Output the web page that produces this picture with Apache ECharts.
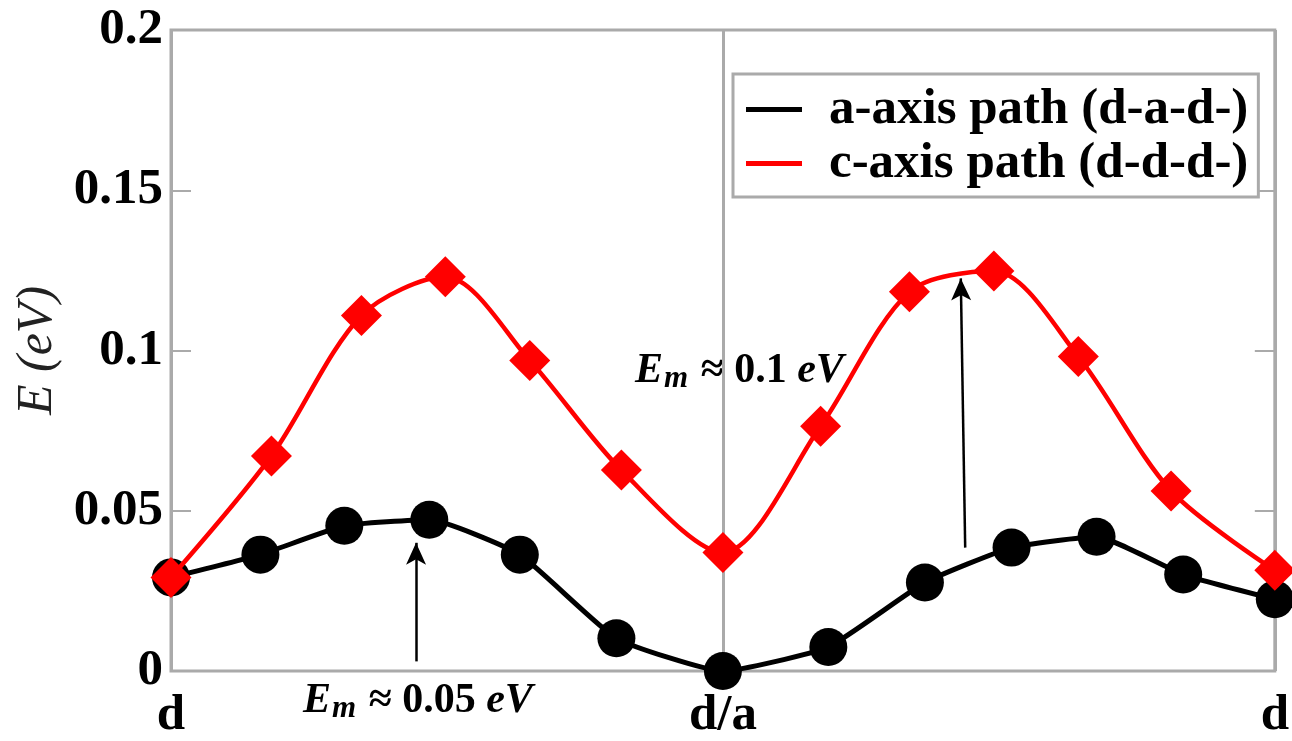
<!DOCTYPE html>
<html>
<head>
<meta charset="utf-8">
<script src="https://cdn.jsdelivr.net/npm/echarts@6/dist/echarts.min.js"></script>
<style>
  html, body { margin: 0; padding: 0; background: #fff; }
  #chart { width: 1292px; height: 741px; }
</style>
</head>
<body>
<div id="chart"></div>
<script>
// path positions: 0 = d, 1 = d/a, 2 = d
const xTickLabels = ['d', 'd/a', 'd']
const yTickLabels = ['0', '0.05', '0.1', '0.15', '0.2']

// a-axis path (d-a-d-)
const aX = [0, 0.162, 0.314, 0.468, 0.632, 0.807, 1.0, 1.191, 1.366, 1.523, 1.677, 1.834, 2.0]
const aE = [0.0292, 0.0363, 0.0453, 0.0472, 0.0363, 0.0102, 0, 0.0075, 0.0276, 0.0385, 0.0419, 0.0301, 0.0224]

// c-axis path (d-d-d-)
const cX = [0, 0.182, 0.345, 0.497, 0.650, 0.816, 1.0, 1.177, 1.338, 1.491, 1.644, 1.812, 2.0]
const cE = [0.0292, 0.0671, 0.1109, 0.1230, 0.0969, 0.0627, 0.0370, 0.0764, 0.1183, 0.1248, 0.0981, 0.0562, 0.0314]

// arrows pointing at the barrier maxima: [from, to] in data coords
const arrowA = [[0.444, 0.003], [0.444, 0.040]]
const arrowC = [[1.439, 0.0385], [1.431, 0.1225]]

const serif = 'Liberation Serif'
const grey = '#aaaaaa'

const chart = echarts.init(document.getElementById('chart'), null, { renderer: 'canvas' })

const mathText = (num) => ({
  type: 'text',
  style: {
    text: '{e|E}{m|m}{t| ≈ }{n|' + num + '}{t| }{e|eV}',
    rich: {
      e: { fontFamily: serif, fontStyle: 'italic', fontWeight: 'bold', fontSize: 42, fill: '#000' },
      m: { fontFamily: serif, fontStyle: 'italic', fontWeight: 'bold', fontSize: 31, fill: '#000', padding: [15, 2, 0, 1] },
      t: { fontFamily: serif, fontWeight: 'bold', fontSize: 42, fill: '#000' },
      n: { fontFamily: serif, fontWeight: 'bold', fontSize: 42, fill: '#000' }
    }
  }
})

const option = {
  animation: false,
  backgroundColor: '#fff',
  grid: {
    left: 171, right: 13, top: 30, bottom: 67,
    show: true, borderColor: grey, borderWidth: 3, backgroundColor: 'transparent'
  },
  legend: {
    orient: 'vertical',
    left: 733, top: 74,
    padding: [10, 10, 8, 13],
    borderColor: grey, borderWidth: 3,
    backgroundColor: '#fff',
    itemWidth: 56, itemHeight: 5, itemGap: 3,
    icon: 'rect',
    textStyle: { fontFamily: serif, fontWeight: 'bold', fontSize: 51, color: '#000', padding: [0, 0, 0, 22] },
    data: ['a-axis path (d-a-d-)', 'c-axis path (d-d-d-)']
  },
  xAxis: {
    type: 'value', min: 0, max: 2, interval: 1,
    axisLine: { show: false },
    axisTick: { show: false },
    splitLine: { show: true, lineStyle: { color: grey, width: 3 } },
    axisLabel: {
      margin: 19,
      fontFamily: serif, fontWeight: 'bold', fontSize: 51, color: '#000',
      formatter: v => xTickLabels[Math.round(v)]
    }
  },
  yAxis: [{
    type: 'value', min: 0, max: 0.2, interval: 0.05,
    name: 'E (eV)', nameLocation: 'middle', nameGap: 107,
    nameTextStyle: { fontFamily: serif, fontStyle: 'italic', fontSize: 50, color: '#222' },
    axisLine: { show: false },
    axisTick: { show: true, inside: true, length: 20, lineStyle: { color: grey, width: 2 } },
    splitLine: { show: false },
    axisLabel: {
      margin: 8,
      fontFamily: serif, fontWeight: 'bold', fontSize: 51, color: '#000',
      formatter: v => yTickLabels[Math.round(v / 0.05)]
    }
  }, {
    type: 'value', min: 0, max: 0.2, interval: 0.05, position: 'right',
    axisLine: { show: false },
    axisTick: { show: true, inside: true, length: 20, lineStyle: { color: grey, width: 2 } },
    splitLine: { show: false },
    axisLabel: { show: false }
  }],
  series: [{
    name: 'a-axis path (d-a-d-)',
    type: 'line',
    data: aX.map((x, i) => [x, aE[i]]),
    smooth: 0.15,
    clip: false,
    symbol: 'circle', symbolSize: 38,
    color: '#000',
    lineStyle: { color: '#000', width: 5 },
    itemStyle: { color: '#000' },
    markLine: {
      silent: true,
      symbol: ['none', 'arrow'],
      symbolSize: [15, 22],
      label: { show: false },
      lineStyle: { color: '#000', width: 2.5, type: 'solid' },
      data: [
        [{ coord: arrowA[0] }, { coord: arrowA[1] }],
        [{ coord: arrowC[0] }, { coord: arrowC[1] }]
      ]
    },
    z: 3
  }, {
    name: 'c-axis path (d-d-d-)',
    type: 'line',
    data: cX.map((x, i) => [x, cE[i]]),
    smooth: 0.3,
    clip: false,
    symbol: 'diamond', symbolSize: 41,
    color: '#ff0000',
    lineStyle: { color: '#ff0000', width: 4.5 },
    itemStyle: { color: '#ff0000' },
    z: 4
  }],
  graphic: [
    Object.assign(mathText('0.05'), { left: 303, top: 680 }),
    Object.assign(mathText('0.1'), { left: 635, top: 350 })
  ]
}

chart.setOption(option)
window.addEventListener('resize', () => chart.resize())
</script>
</body>
</html>
